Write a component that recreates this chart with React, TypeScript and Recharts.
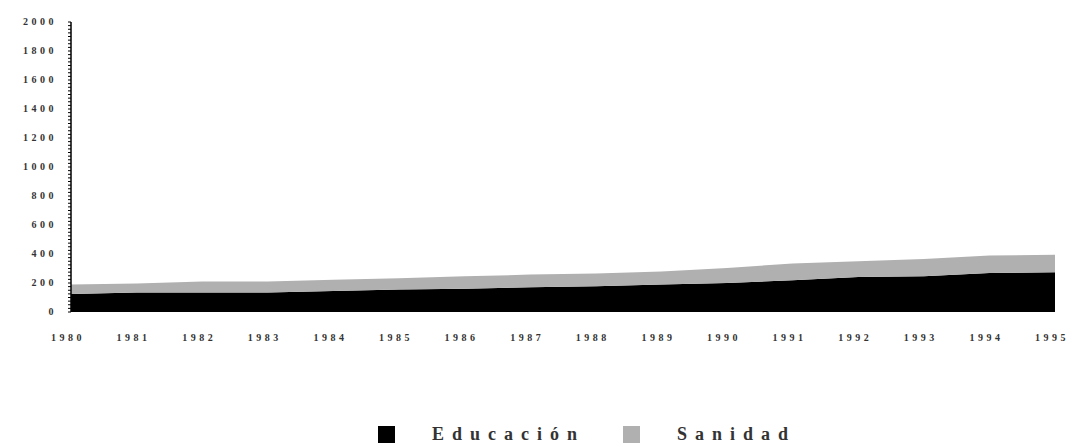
import { Area, AreaChart, Legend, XAxis, YAxis } from "recharts"

const years = ["1980", "1981", "1982", "1983", "1984", "1985", "1986", "1987", "1988", "1989", "1990", "1991", "1992", "1993", "1994", "1995"]
const educacion = [124, 135, 135, 135, 145, 155, 160, 170, 177, 189, 200, 219, 242, 246, 269, 274]
const sanidad = [65, 61, 75, 75, 78, 77, 86, 88, 88, 91, 104, 115, 108, 120, 120, 121]
const yTicks = Array.from({ length: 81 }, (_, i) => i * 25)

const data = years.map((year, i) => ({ year, educacion: educacion[i], sanidad: sanidad[i] }))

const series = [
  { key: "educacion", name: "Educación", color: "#000000", left: 378 },
  { key: "sanidad", name: "Sanidad", color: "#b0b0b0", left: 623 },
]

const tickFont = { fontFamily: "Liberation Serif", fontWeight: 700, fontSize: 10, letterSpacing: 3.5, fill: "#333" }

function YTick({ x, y, payload }: any) {
  if (payload.value % 200 !== 0) return null
  return (
    <text x={x - 9} y={y + 3} textAnchor="end" {...tickFont}>
      {payload.value}
    </text>
  )
}

function XTick({ x, y, payload }: any) {
  return (
    <text x={x - 3} y={y + 21} textAnchor="middle" {...tickFont}>
      {payload.value}
    </text>
  )
}

function LegendBox() {
  return (
    <div style={{ position: "relative", width: 1071, height: 22 }}>
      {series.map((s) => (
        <div key={s.key} style={{ position: "absolute", left: s.left, top: 0, display: "flex", alignItems: "center" }}>
          <span style={{ width: 17, height: 17, background: s.color, display: "inline-block", marginRight: 37 }} />
          <span style={{ fontFamily: "Liberation Serif", fontWeight: 700, fontSize: 18, letterSpacing: 8, color: "#333", lineHeight: "20px" }}>
            {s.name}
          </span>
        </div>
      ))}
    </div>
  )
}

export default function App() {
  return (
    <div style={{ position: "absolute", left: 0, top: 0, background: "#fff" }}>
      <AreaChart width={1071} height={446} data={data} margin={{ top: 22, right: 16, bottom: 94, left: 0 }}>
        <XAxis dataKey="year" axisLine={false} tickLine={false} tick={<XTick />} height={40} interval={0} />
        <YAxis
          width={71}
          domain={[0, 2000]}
          ticks={yTicks}
          interval={0}
          tickSize={3}
          tick={<YTick />}
          axisLine={{ stroke: "#000", strokeWidth: 1.5 }}
          tickLine={{ stroke: "#000" }}
        />
        {series.map((s) => (
          <Area
            key={s.key}
            type="linear"
            dataKey={s.key}
            name={s.name}
            stackId="1"
            stroke="none"
            fill={s.color}
            fillOpacity={1}
            isAnimationActive={false}
          />
        ))}
        <Legend
          layout="horizontal"
          verticalAlign="middle"
          align="center"
          content={<LegendBox />}
          wrapperStyle={{ top: 424, left: 0, width: 1071 }}
        />
      </AreaChart>
    </div>
  )
}
